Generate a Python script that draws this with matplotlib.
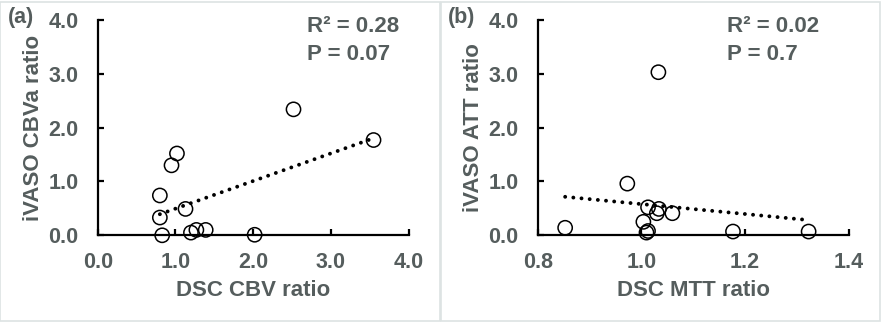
import matplotlib.pyplot as plt
from matplotlib.patches import Rectangle
import numpy as np

# panel (a): DSC CBV ratio vs iVASO CBVa ratio
cbv_dsc = [0.80, 0.80, 0.83, 0.95, 1.02, 1.13, 1.20, 1.27, 1.39, 2.02, 2.52, 3.55]
cbva_ivaso = [0.74, 0.33, 0.00, 1.30, 1.52, 0.49, 0.05, 0.10, 0.10, 0.01, 2.34, 1.77]

# panel (b): DSC MTT ratio vs iVASO ATT ratio
mtt_dsc = [0.853, 0.973, 1.004, 1.010, 1.013, 1.013, 1.030, 1.034, 1.033, 1.060, 1.177, 1.323]
att_ivaso = [0.14, 0.96, 0.25, 0.05, 0.08, 0.52, 0.41, 0.49, 3.03, 0.41, 0.07, 0.07]

XTICKS_A = [0.0, 1.0, 2.0, 3.0, 4.0]
XTICKS_B = [0.8, 1.0, 1.2, 1.4]
YTICKS = [0.0, 1.0, 2.0, 3.0, 4.0]
STATS_A = ['R\u00b2 = 0.28', 'P = 0.07']
STATS_B = ['R\u00b2 = 0.02', 'P = 0.7']

GREY = '#555d5d'
FONT = 'Liberation Sans'
W, H = 881, 322

plt.rcParams['font.family'] = FONT
plt.rcParams['font.weight'] = 'bold'
plt.rcParams['axes.labelweight'] = 'bold'

fig = plt.figure(figsize=(W / 100, H / 100), dpi=100)

# light panel frames
for x0, x1 in [(0, 440), (441, 880)]:
    fig.patches.append(Rectangle((x0 / W, 1.5 / H), (x1 - x0) / W, (H - 3) / H,
                                 transform=fig.transFigure, fill=False,
                                 edgecolor='#dde3e3', lw=1.2))


def panel(left_px, x, y, xlim, xticks, xlabel, ylabel, tag, stats, tag_px, stats_px):
    ax = fig.add_axes([left_px / W, (H - 235.3) / H, 310.8 / W, 215.3 / H])
    ax.scatter(x, y, s=105, facecolors='none', edgecolors='black', linewidths=1.1,
               zorder=3, clip_on=False)
    k, b = np.polyfit(x, y, 1)
    xs = np.array([min(x), max(x)])
    ax.plot(xs, k * xs + b, color='black', lw=2.8, linestyle=(0, (0.01, 2.1)),
            dash_capstyle='round', zorder=2)
    ax.set_xlim(xlim)
    ax.set_ylim(0, 4)
    ax.set_xticks(xticks)
    ax.set_yticks(YTICKS)
    ax.set_xticklabels(['%.1f' % t for t in xticks], fontweight='bold')
    ax.set_yticklabels(['%.1f' % t for t in YTICKS], fontweight='bold')
    for s in ['top', 'right']:
        ax.spines[s].set_visible(False)
    for s in ['left', 'bottom']:
        ax.spines[s].set_linewidth(1.6)
    ax.tick_params(direction='in', length=4, width=1.6, labelsize=15.5,
                   labelcolor=GREY)
    ax.tick_params(axis='x', pad=12)
    ax.tick_params(axis='y', pad=14)
    ax.set_xlabel(xlabel, fontsize=16, color=GREY, labelpad=5, fontweight='bold')
    ax.set_ylabel(ylabel, fontsize=16, color=GREY, labelpad=3, fontweight='bold')
    fig.text(tag_px / W, 1 - 23.5 / H, tag, fontsize=15.5, color=GREY, fontweight='bold')
    for i, line in enumerate(stats):
        fig.text(stats_px / W, 1 - (32.5 + 27 * i) / H, line, fontsize=16,
                 color=GREY, fontweight='bold')
    return ax


panel(97.7, cbv_dsc, cbva_ivaso, (0, 4), XTICKS_A, 'DSC CBV ratio', 'iVASO CBVa ratio',
      '(a)', STATS_A, 8, 307)
panel(537.7, mtt_dsc, att_ivaso, (0.8, 1.4), XTICKS_B, 'DSC MTT ratio', 'iVASO ATT ratio',
      '(b)', STATS_B, 448, 727)

fig.savefig('out.png', dpi=100)
